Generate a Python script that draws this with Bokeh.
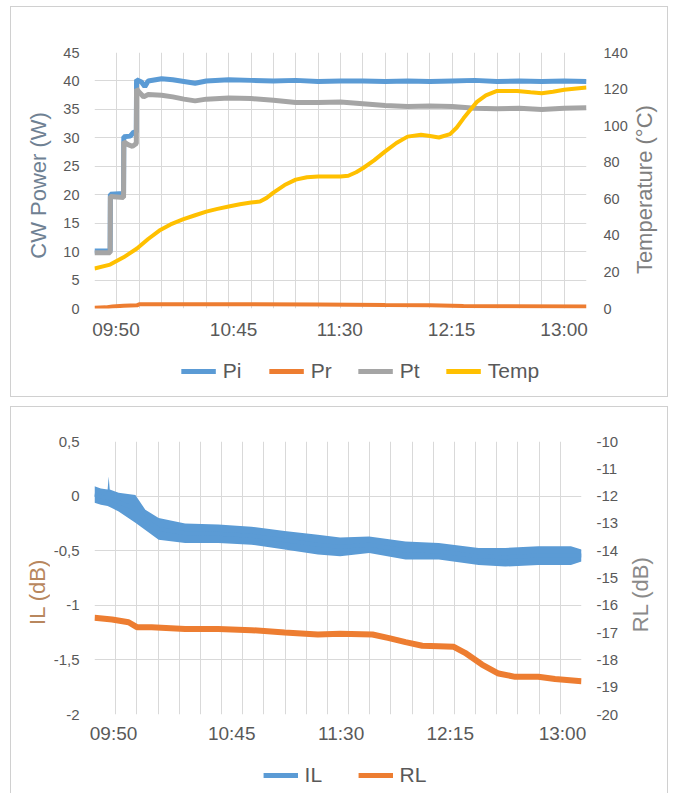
import math
from bokeh.plotting import figure
from bokeh.models import Range1d, LinearAxis, FixedTicker, Legend, LegendItem, Spacer
from bokeh.core.properties import value
from bokeh.layouts import column, row
from bokeh.embed import file_html
from bokeh.resources import INLINE

# ---------------- data: top chart (x in category-grid units) ----------------
top_tick_pos = [0.96, 6.22, 10.97, 15.97, 21.0]
top_tick_lbl = ["09:50", "10:45", "11:30", "12:15", "13:00"]

pi_x = [0, 0.70, 0.71, 1.30, 1.31, 1.6, 1.75, 1.87, 1.88, 2.1, 2.25, 2.4, 3.0, 3.5, 4.0, 4.5,
        5.0, 6.0, 7.0, 8.0, 9.0, 10.0, 11.0, 12.0, 13.0, 14.0, 15.0, 16.0, 17.0, 18.0, 19.0,
        20.0, 21.0, 22.0]
pi_y = [10.1, 10.1, 20.1, 20.2, 30.2, 30.3, 31.0, 31.0, 40.2, 39.8, 39.0, 40.0, 40.4, 40.2,
        39.9, 39.6, 40.0, 40.2, 40.1, 40.0, 40.1, 39.9, 40.0, 40.0, 39.9, 40.0, 39.9, 40.0,
        40.1, 39.9, 40.0, 39.9, 40.0, 39.9]

pt_x = [0, 0.70, 0.71, 1.30, 1.31, 1.5, 1.7, 1.87, 1.88, 2.0, 2.2, 2.4, 3.0, 3.5, 4.0, 4.5,
        5.0, 6.0, 7.0, 8.0, 9.0, 10.0, 11.0, 12.0, 13.0, 14.0, 15.0, 16.0, 17.0, 18.0, 19.0,
        20.0, 21.0, 22.0]
pt_y = [9.8, 9.8, 19.7, 19.5, 29.3, 28.8, 28.5, 29.0, 38.6, 38.0, 37.2, 37.6, 37.5, 37.2,
        36.8, 36.5, 36.8, 37.0, 36.9, 36.6, 36.2, 36.2, 36.3, 36.0, 35.7, 35.5, 35.6, 35.5,
        35.2, 35.1, 35.2, 35.0, 35.2, 35.3]

pr_x = [0, 0.5, 0.8, 1.3, 1.9, 2.0, 5.0, 10.0, 13.0, 15.0, 16.5, 18.0, 22.0]
pr_y = [0.15, 0.2, 0.35, 0.5, 0.55, 0.75, 0.75, 0.7, 0.6, 0.55, 0.45, 0.4, 0.35]

temp_x = [0, 0.7, 1.3, 1.9, 2.4, 2.9, 3.4, 3.95, 4.5, 5.0, 5.5, 6.0, 6.5, 7.0, 7.4, 7.7, 8.0,
          8.5, 9.0, 9.5, 10.0, 11.0, 11.35, 11.7, 12.0, 12.5, 13.0, 13.5, 14.0, 14.6, 15.0,
          15.4, 15.9, 16.2, 16.5, 16.8, 17.1, 17.5, 18.0, 18.9, 19.5, 20.0, 20.5, 21.0, 22.0]
temp_y = [21.9, 24.0, 28.0, 32.8, 38.0, 42.6, 46.0, 48.7, 51.0, 53.0, 54.5, 55.8, 57.0, 58.0,
          58.5, 60.5, 63.4, 67.5, 70.5, 71.8, 72.2, 72.2, 72.6, 74.5, 76.7, 81.0, 85.9, 90.5,
          94.0, 95.0, 94.3, 93.5, 95.4, 99.0, 104.0, 108.5, 113.0, 116.5, 119.0, 119.0, 118.2,
          117.7, 118.5, 119.6, 120.9]

power_ticks = [0, 5, 10, 15, 20, 25, 30, 35, 40, 45]
temp_ticks = [0, 20, 40, 60, 80, 100, 120, 140]

# ---------------- data: bottom chart ----------------
bot_tick_pos = [0.9, 6.48, 11.65, 16.8, 22.1]
bot_tick_lbl = ["09:50", "10:45", "11:30", "12:15", "13:00"]

il_x = [0, 0.3, 0.62, 0.67, 0.72, 1.14, 1.93, 2.4, 3.03, 4.28, 5.85, 7.41, 8.98, 10.55, 11.6,
        12.97, 14.69, 16.26, 18.14, 19.4, 20.96, 22.5, 23.0]
il_hi = [0.09, 0.07, 0.06, 0.18, 0.06, 0.03, 0.01, -0.125, -0.20, -0.25, -0.26, -0.28, -0.32,
         -0.355, -0.38, -0.37, -0.415, -0.43, -0.475, -0.475, -0.46, -0.46, -0.49]
il_lo = [-0.06, -0.08, -0.09, -0.095, -0.10, -0.14, -0.245, -0.31, -0.40, -0.43, -0.43, -0.445,
         -0.49, -0.535, -0.55, -0.52, -0.58, -0.58, -0.63, -0.645, -0.63, -0.63, -0.60]

rl_x = [0, 0.83, 1.61, 2.0, 2.7, 4.28, 5.85, 7.41, 8.98, 10.55, 11.6, 13.13, 13.91, 14.69,
        15.48, 16.26, 16.97, 17.5, 18.3, 19.08, 19.87, 20.96, 21.75, 23.0]
rl_y = [-16.46, -16.52, -16.62, -16.8, -16.8, -16.87, -16.87, -16.91, -17.0, -17.07, -17.04,
        -17.07, -17.2, -17.35, -17.48, -17.5, -17.52, -17.74, -18.17, -18.5, -18.62, -18.62,
        -18.7, -18.78]

il_ticks = [-2, -1.5, -1, -0.5, 0, 0.5]
il_labels = ["-2", "-1,5", "-1", "-0,5", "0", "0,5"]
rl_ticks = [-20, -19, -18, -17, -16, -15, -14, -13, -12, -11, -10]

# ---------------- styling ----------------
FONT = "Liberation Sans"
GRID = "#d9d9d9"
TXT = "#595959"
EDGE = "1px solid #d0d0d0"
BLUE, ORANGE, GRAY, GOLD = "#5b9bd5", "#ed7d31", "#a5a5a5", "#ffc000"


def edges(*sides):
    return {"border-" + s: EDGE for s in sides}


def style_axis(ax, size):
    ax.axis_line_color = None
    ax.major_tick_line_color = None
    ax.minor_tick_line_color = None
    ax.major_tick_out = 0
    ax.major_tick_in = 0
    ax.minor_tick_out = 0
    ax.minor_tick_in = 0
    ax.major_label_text_font = FONT
    ax.major_label_text_font_size = size
    ax.major_label_text_color = TXT


def base_fig(width, height, bl, br, bt, bb, xmax, y0, y1, yticks):
    p = figure(width=width, height=height, output_backend="svg", toolbar_location=None,
               x_range=Range1d(0, xmax), y_range=Range1d(y0, y1),
               min_border_left=bl, min_border_right=br, min_border_top=bt, min_border_bottom=bb)
    p.outline_line_color = None
    p.xgrid.ticker = FixedTicker(ticks=list(range(int(xmax) + 1)))
    p.ygrid.ticker = FixedTicker(ticks=yticks)
    p.xgrid.grid_line_color = GRID
    p.ygrid.grid_line_color = GRID
    p.yaxis.ticker = FixedTicker(ticks=yticks)
    p.styles = edges("top")
    return p


def blank_fig(width, height, **borders):
    q = figure(width=width, height=height, output_backend="svg", toolbar_location=None,
               x_axis_type=None, y_axis_type=None,
               x_range=Range1d(0, width), y_range=Range1d(0, height),
               min_border_left=borders.get("left", 0), min_border_right=0,
               min_border_top=borders.get("top", 0), min_border_bottom=0)
    q.outline_line_color = None
    return q


def title_fig(width, height, cx, cy, text, color, sides):
    q = blank_fig(width, height)
    q.text(x=[cx], y=[height - cy], text=[text], angle=math.pi / 2,
           text_align="center", text_baseline="middle", text_font=value(FONT),
           text_font_size=value("22px"), text_color=color)
    q.styles = edges(*sides)
    return q


def legend_fig(height, bl, bt, specs, spacing, sides):
    q = blank_fig(658, height, left=bl, top=bt)
    q.y_range = Range1d(1.0e6, 1.0e6 + 1)
    items = []
    for label, xs, ys, color in specs:
        r = q.line(xs, ys, line_color=color, line_width=5)
        items.append(LegendItem(label=label, renderers=[r]))
    lg = Legend(items=items, location="center", orientation="horizontal")
    lg.border_line_color = None
    lg.background_fill_alpha = 0
    lg.label_text_font = FONT
    lg.label_text_font_size = "21px"
    lg.label_text_color = TXT
    lg.glyph_width = 35
    lg.glyph_height = 20
    lg.label_standoff = 7
    lg.spacing = spacing
    lg.padding = 2
    lg.margin = 0
    q.add_layout(lg, "center")
    q.styles = edges(*sides)
    return q


# ---------------- top chart ----------------
p1 = base_fig(570, 339, 34, 43, 45, 38, 22, 0, 45, power_ticks)
p1.extra_y_ranges = {"temp": Range1d(0, 140)}
p1.xaxis.ticker = FixedTicker(ticks=top_tick_pos)
p1.xaxis.major_label_overrides = dict(zip(top_tick_pos, top_tick_lbl))
style_axis(p1.xaxis[0], "19px")
p1.xaxis.major_label_standoff = 10
style_axis(p1.yaxis[0], "14.5px")
p1.yaxis.major_label_standoff = 15

ax_t = LinearAxis(y_range_name="temp", ticker=FixedTicker(ticks=temp_ticks))
style_axis(ax_t, "14.5px")
ax_t.major_label_standoff = 17
p1.add_layout(ax_t, "right")

p1.line(pi_x, pi_y, line_color=BLUE, line_width=5)
p1.line(pr_x, pr_y, line_color=ORANGE, line_width=4)
p1.line(pt_x, pt_y, line_color=GRAY, line_width=5)
p1.line(temp_x, temp_y, line_color=GOLD, line_width=4, y_range_name="temp")

tl1 = title_fig(50, 339, 27, 176, "CW Power (W)", "#6f8193", ["top", "left"])
tr1 = title_fig(38, 339, 13.5, 181.6, "Temperature (°C)", "#7f7f7f", ["top", "right"])
leg1 = legend_fig(52, 40, 0, [("Pi", pi_x, pi_y, BLUE), ("Pr", pr_x, pr_y, ORANGE),
                              ("Pt", pt_x, pt_y, GRAY), ("Temp", temp_x, temp_y, GOLD)], 26,
                  ["left", "right", "bottom"])

# ---------------- bottom chart ----------------
p2 = base_fig(571, 343, 43, 39, 34, 36, 23, -2, 0.5, il_ticks)
p2.extra_y_ranges = {"rl": Range1d(-20, -10)}
p2.xaxis.ticker = FixedTicker(ticks=bot_tick_pos)
p2.xaxis.major_label_overrides = dict(zip(bot_tick_pos, bot_tick_lbl))
style_axis(p2.xaxis[0], "19px")
p2.xaxis.major_label_standoff = 8
p2.yaxis.major_label_overrides = dict(zip(il_ticks, il_labels))
style_axis(p2.yaxis[0], "15px")
p2.yaxis.major_label_standoff = 15

ax_r = LinearAxis(y_range_name="rl", ticker=FixedTicker(ticks=rl_ticks))
ax_r.major_label_overrides = {t: str(t) for t in rl_ticks}
style_axis(ax_r, "15px")
ax_r.major_label_standoff = 15
p2.add_layout(ax_r, "right")

p2.varea(x=il_x, y1=il_lo, y2=il_hi, fill_color=BLUE)
il_mid = [(a + b) / 2 for a, b in zip(il_hi, il_lo)]
p2.line(il_x, il_mid, line_color=BLUE, line_width=4)
p2.line(rl_x, rl_y, line_color=ORANGE, line_width=6, y_range_name="rl")

tl2 = title_fig(40, 343, 26, 189, "IL (dB)", "#b8875e", ["top", "left"])
tr2 = title_fig(47, 343, 19, 192, "RL (dB)", "#8a8a8a", ["top", "right"])
leg2 = legend_fig(44, 9, 8, [("IL", il_x, il_mid, BLUE), ("RL", rl_x, rl_y, ORANGE)], 33,
                  ["left", "right"])

layout = column(
    Spacer(height=6),
    row(Spacer(width=10), column(row(tl1, p1, tr1, spacing=0), leg1, spacing=0), spacing=0),
    Spacer(height=9),
    row(Spacer(width=10), column(row(tl2, p2, tr2, spacing=0), leg2, spacing=0), spacing=0),
    spacing=0)
open("out.html", "w").write(file_html(layout, INLINE))
